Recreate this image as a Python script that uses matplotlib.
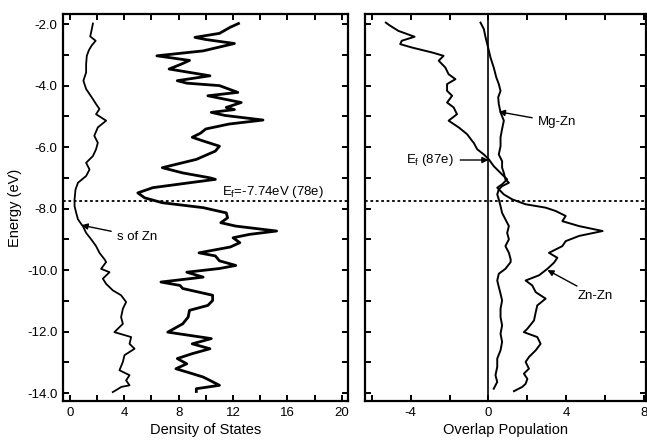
import matplotlib
matplotlib.use("Agg")
import matplotlib.pyplot as plt
from matplotlib.ticker import MultipleLocator, FixedLocator, FormatStrFormatter

plt.rcParams['font.family'] = ['Liberation Sans', 'DejaVu Sans']
plt.rcParams['axes.unicode_minus'] = False
plt.rcParams['mathtext.default'] = 'regular'

# ---- data ----
total_E = [-1.98, -2.1, -2.3, -2.43, -2.5, -2.63, -2.87, -3.03, -3.18, -3.3, -3.46, -3.68, -3.84, -3.92,
           -4.0, -4.22, -4.33, -4.55, -4.71, -4.78, -4.87, -4.97, -5.12, -5.25, -5.41, -5.55, -5.68, -5.8,
           -5.97, -6.13, -6.4, -6.67, -6.84, -7.0, -7.05, -7.16, -7.32, -7.49, -7.65, -7.81, -7.97, -8.14,
           -8.3, -8.46, -8.57, -8.73, -8.84, -8.95, -9.11, -9.25, -9.44, -9.54, -9.7, -9.85, -9.95, -10.07,
           -10.23, -10.39, -10.5, -10.6, -10.82, -10.99, -11.15, -11.31, -11.53, -11.75, -12.02, -12.23,
           -12.4, -12.56, -12.72, -12.88, -13.05, -13.21, -13.37, -13.48, -13.59, -13.75, -13.86, -13.95]
total_dos = [12.4, 11.8, 11.0, 9.2, 10.0, 12.1, 9.8, 6.4, 8.8, 8.2, 7.3, 10.3, 7.9, 8.6,
             11.0, 12.35, 10.15, 12.6, 11.5, 12.1, 10.4, 11.4, 14.2, 11.7, 10.0, 9.6, 9.0, 9.8,
             11.0, 10.7, 9.3, 6.8, 8.3, 10.3, 10.7, 8.8, 6.1, 5.0, 5.5, 6.8, 9.8, 11.5,
             11.6, 11.1, 12.2, 15.2, 13.2, 12.0, 12.5, 11.8, 9.5, 10.7, 11.0, 12.2, 11.0, 8.6,
             9.8, 6.7, 8.1, 8.3, 10.5, 10.5, 10.15, 8.8, 8.7, 8.3, 7.2, 10.4,
             9.0, 10.3, 9.0, 7.9, 8.6, 7.8, 9.0, 9.8, 10.3, 11.0, 9.3, 9.3]

szn_E = [-1.98, -2.2, -2.4, -2.54, -2.7, -2.85, -3.03, -3.3, -3.57, -3.84, -4.11, -4.44, -4.6, -4.76,
         -4.93, -5.14, -5.36, -5.63, -5.86, -6.07, -6.29, -6.51, -6.73, -6.94, -7.16, -7.38, -7.7, -7.92,
         -8.14, -8.35, -8.54, -8.57, -8.79, -9.0, -9.22, -9.44, -9.65, -9.74, -9.96, -10.07, -10.28,
         -10.45, -10.66, -10.82, -11.04, -11.26, -11.53, -11.75, -11.91, -12.02, -12.18, -12.4, -12.56,
         -12.77, -12.99, -13.26, -13.42, -13.59, -13.75, -13.8, -13.97]
szn_dos = [1.7, 1.6, 1.5, 1.9, 1.6, 1.4, 1.25, 1.2, 1.2, 1.0, 1.2, 1.7, 1.93, 2.18,
           1.93, 2.67, 2.06, 1.8, 2.06, 1.93, 1.7, 1.2, 1.45, 1.2, 0.6, 0.42, 0.35, 0.35,
           0.47, 0.6, 0.9, 0.96, 1.2, 1.57, 1.93, 2.18, 2.55, 2.67, 2.3, 2.92, 2.43,
           2.67, 3.16, 3.77, 4.14, 3.9, 3.77, 3.9, 3.53, 3.28, 4.51, 4.39, 4.76,
           4.02, 3.9, 3.65, 4.39, 4.14, 4.39, 3.8, 3.16]

znzn_E = [-1.95, -2.05, -2.22, -2.41, -2.54, -2.65, -2.76, -2.92, -3.03, -3.19, -3.41, -3.63, -3.79,
          -3.95, -4.17, -4.33, -4.55, -4.71, -4.93, -5.14, -5.36, -5.58, -5.8, -5.86, -6.07, -6.24,
          -6.4, -6.62, -6.84, -7.05, -7.21, -7.32, -7.54, -7.7, -7.86, -7.97, -8.08, -8.24, -8.41,
          -8.57, -8.73, -8.89, -9.06, -9.22, -9.44, -9.6, -9.76, -9.96, -10.17, -10.34, -10.5,
          -10.72, -10.93, -11.15, -11.37, -11.64, -11.91, -12.02, -12.18, -12.4, -12.61, -12.83,
          -12.99, -13.21, -13.37, -13.54, -13.7, -13.8, -13.94]
znzn_op = [-5.28, -5.06, -4.63, -3.8, -4.46, -4.54, -3.94, -2.91, -2.31, -2.56, -2.22, -2.05, -1.7,
           -2.13, -2.13, -1.87, -2.13, -1.79, -1.62, -2.05, -1.53, -1.1, -0.84, -0.76, -0.58, -0.24,
           0.02, 0.27, 0.62, 0.96, 0.7, 0.45, 0.79, 1.22, 1.91, 2.94, 3.46, 3.97, 3.8,
           4.66, 5.87, 4.66, 3.97, 3.8, 3.11, 3.54, 3.37, 3.03, 2.6, 1.91, 2.25,
           2.43, 2.94, 2.51, 2.43, 2.34, 2.0, 1.82, 2.51, 2.68, 2.43, 2.08,
           1.91, 2.08, 1.82, 2.0, 1.91, 1.74, 1.31]

mgzn_E = [-1.95, -2.16, -2.43, -2.76, -3.08, -3.41, -3.73, -3.95, -4.17, -4.38, -4.6, -4.87, -5.14,
          -5.41, -5.68, -5.97, -6.24, -6.46, -6.67, -6.84, -7.05, -7.16, -7.27, -7.38, -7.54, -7.7,
          -7.92, -8.14, -8.35, -8.57, -8.79, -9.0, -9.22, -9.44, -9.65, -9.74, -9.96, -10.12, -10.34,
          -10.55, -10.77, -10.99, -11.26, -11.53, -11.8, -12.07, -12.34, -12.61, -12.88, -13.15,
          -13.42, -13.64, -13.86]
mgzn_op = [-0.41, -0.24, -0.15, -0.02, 0.1, 0.27, 0.4, 0.53, 0.62, 0.5, 0.53, 0.62, 0.79,
           0.7, 0.62, 0.62, 0.53, 0.7, 0.7, 0.79, 0.87, 1.05, 0.7, 0.53, 0.45, 0.53,
           0.62, 0.7, 0.87, 1.05, 0.96, 1.05, 0.87, 1.05, 1.14, 1.14, 0.87, 0.53, 0.45,
           0.53, 0.62, 0.7, 0.62, 0.62, 0.7, 0.62, 0.7, 0.62, 0.45, 0.45,
           0.36, 0.45, 0.27]

fermi_E = -7.74
dos_ticks = [0, 4, 8, 12, 16, 20]
op_ticks = [-4, 0, 4, 8]
energy_ticks = [-2, -4, -6, -8, -10, -12, -14]

# ---- figure ----
fig = plt.figure(figsize=(6.47, 4.47), dpi=100)
ax1 = fig.add_axes([63/647, 1-401/447, (348-63)/647, (401-14)/447])
ax2 = fig.add_axes([365/647, 1-401/447, (646-365)/647, (401-14)/447])

for ax in (ax1, ax2):
    for s in ax.spines.values():
        s.set_linewidth(1.6)
    ax.set_ylim(-14.26, -1.67)
    ax.yaxis.set_major_locator(FixedLocator(energy_ticks))
    ax.yaxis.set_minor_locator(MultipleLocator(1))
    ax.tick_params(which='both', direction='in', top=True, right=True, length=4.5, width=1.4,
                   labelsize=9.5, pad=4)
    ax.axhline(fermi_E, color='black', linestyle=(0, (1.5, 1.5)), linewidth=1.3)

# left panel
ax1.plot(szn_dos, szn_E, color='black', linewidth=1.3)
ax1.plot(total_dos, total_E, color='black', linewidth=2.0)
ax1.set_xlim(-0.5, 20.45)
ax1.xaxis.set_major_locator(FixedLocator(dos_ticks))
ax1.xaxis.set_minor_locator(MultipleLocator(2))
ax1.yaxis.set_major_formatter(FormatStrFormatter('%.1f'))
ax1.set_xlabel('Density of States', fontsize=10.5, labelpad=3)
ax1.set_ylabel('Energy (eV)', fontsize=10.5, labelpad=4)
ax1.text(11.2, -7.46, r'E$_f$=-7.74eV (78e)', fontsize=9.5, va='center', ha='left')
ax1.annotate('s of Zn', xy=(0.86, -8.54), xytext=(3.45, -8.91), fontsize=9.5, va='center', ha='left',
             arrowprops=dict(arrowstyle='-|>', color='black', lw=1.0, shrinkA=2, shrinkB=0,
                             mutation_scale=9))

# right panel
ax2.axvline(0, color='black', linewidth=1.2)
ax2.plot(mgzn_op, mgzn_E, color='black', linewidth=1.4)
ax2.plot(znzn_op, znzn_E, color='black', linewidth=1.4)
ax2.set_xlim(-6.35, 8.1)
ax2.xaxis.set_major_locator(FixedLocator(op_ticks))
ax2.xaxis.set_minor_locator(MultipleLocator(2))
ax2.tick_params(axis='y', which='both', labelleft=False)
ax2.set_xlabel('Overlap Population', fontsize=10.5, labelpad=3)
ax2.annotate('Mg-Zn', xy=(0.53, -4.85), xytext=(2.53, -5.19), fontsize=9.5, va='center', ha='left',
             arrowprops=dict(arrowstyle='-|>', color='black', lw=1.0, shrinkA=2, shrinkB=0,
                             mutation_scale=9))
ax2.annotate(r'E$_f$ (87e)', xy=(0, -6.42), xytext=(-1.81, -6.42), fontsize=9.5, va='center', ha='right',
             arrowprops=dict(arrowstyle='-|>', color='black', lw=1.0, shrinkA=3, shrinkB=0,
                             mutation_scale=9))
ax2.annotate('Zn-Zn', xy=(3.03, -10.0), xytext=(4.6, -10.85), fontsize=9.5, va='center', ha='left',
             arrowprops=dict(arrowstyle='-|>', color='black', lw=1.0, shrinkA=2, shrinkB=0,
                             mutation_scale=9))

fig.savefig('out.png', dpi=100)
